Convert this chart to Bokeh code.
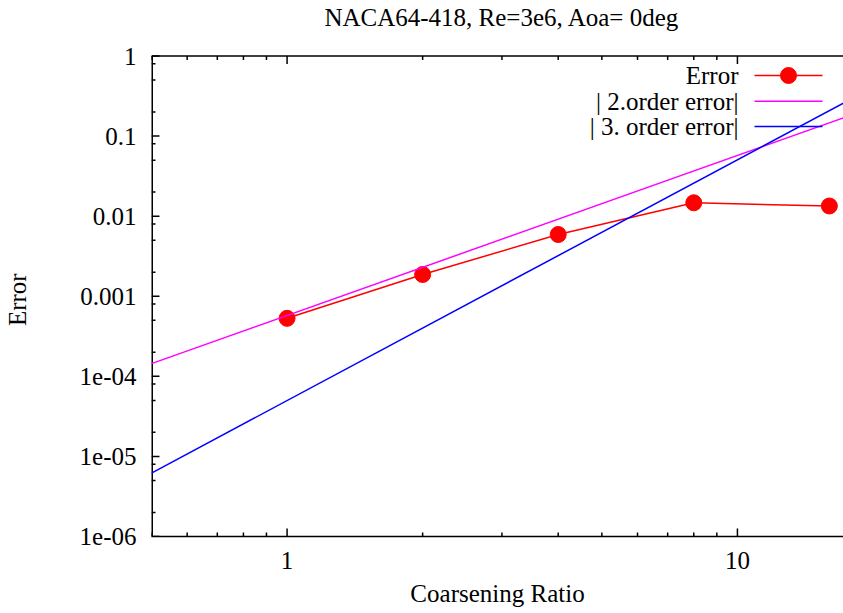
import math
from bokeh.plotting import figure
from bokeh.models import FixedTicker, Range1d, LinearScale, Title
from bokeh.core.properties import value
from bokeh.embed import file_html
from bokeh.resources import INLINE

# ---------------- data ----------------
title_text = "NACA64-418, Re=3e6, Aoa= 0deg"
x_title = "Coarsening Ratio"
y_title = "Error"

ratio = [1, 2, 4, 8, 16]
error = [5.3e-4, 1.87e-3, 5.9e-3, 0.0147, 0.0134]

order2_x = [0.5, 17.2]
order2_y = [1.44e-4, 0.169]
order3_x = [0.5, 17.2]
order3_y = [6.2e-6, 0.258]

x_major = [1, 10]
x_major_labels = ["1", "10"]
x_minor = [0.5, 0.6, 0.7, 0.8, 0.9, 2, 3, 4, 5, 6, 7, 8, 9]

y_major = [1e-6, 1e-5, 1e-4, 1e-3, 1e-2, 1e-1, 1]
y_major_labels = ["1e-06", "1e-05", "1e-04", "0.001", "0.01", "0.1", "1"]
y_minor = [2e-6, 5e-6, 8e-6, 2e-5, 5e-5, 8e-5, 2e-4, 5e-4, 8e-4,
           2e-3, 5e-3, 8e-3, 2e-2, 5e-2, 8e-2, 0.2, 0.5, 0.8]

legend_labels = ["Error", "| 2.order error|", "| 3. order error|"]
colors = ["#ff0000", "#ff00ff", "#0000ff"]

FONT = "Liberation Serif"
FS = "25px"

# plot box (gnuplot border) geometry in pixels
X0, X1 = 0.5, 17.2
Y0, Y1 = 1e-6, 1.0
FW = 692            # box width
BOX_H = 480.5       # box height (1e-6 .. 1)
TOP = 55.5          # space between canvas top and box top
FH = BOX_H + TOP    # drawing frame height (frame reaches the canvas top)
PX_PER_DEC = BOX_H / math.log10(Y1 / Y0)
Y_TOP = Y1 * 10 ** (TOP / PX_PER_DEC)

# ---------------- figure ----------------
p = figure(width=843, height=613, x_axis_type="log", y_axis_type="log",
           x_range=Range1d(X0, X1), y_range=Range1d(Y0, Y_TOP),
           output_backend="svg", toolbar_location=None,
           min_border_left=151, min_border_right=0,
           min_border_top=0, min_border_bottom=77,
           y_axis_label=y_title + "\u00a0" * 10)
p.outline_line_color = None
p.xgrid.visible = False
p.ygrid.visible = False
p.background_fill_color = "white"
p.border_fill_color = "white"
p.title.text = ""
p.title.visible = False

p.add_layout(Title(text=x_title, align="center", offset=4, standoff=13,
                   text_font=FONT, text_font_size=FS, text_font_style="normal",
                   text_color="black"), "below")

bottom = p.below[0]
left = p.left[0]
bottom.ticker = FixedTicker(ticks=x_major, minor_ticks=[])
left.ticker = FixedTicker(ticks=y_major, minor_ticks=[])

for ax in [bottom, left]:
    ax.axis_line_width = 1.5
    ax.axis_line_color = "black"
    ax.major_tick_in = 0
    ax.major_tick_out = 0
    ax.minor_tick_in = 0
    ax.minor_tick_out = 0
    ax.major_label_text_font = FONT
    ax.major_label_text_font_size = FS
    ax.major_label_text_color = "black"
left.axis_line_color = None

bottom.major_label_overrides = dict(zip(x_major, x_major_labels))
bottom.major_label_standoff = 15
left.major_label_overrides = dict(zip(y_major, y_major_labels))
left.major_label_standoff = 15
left.axis_label_text_font = FONT
left.axis_label_text_font_size = FS
left.axis_label_text_font_style = "normal"
left.axis_label_text_color = "black"
left.axis_label_standoff = 46

# pixel-space helper ranges (origin at the canvas top / box left)
p.extra_x_ranges = {"lx": Range1d(0, FW)}
p.extra_y_ranges = {"ly": Range1d(FH, 0)}
p.extra_x_scales = {"lx": LinearScale()}
p.extra_y_scales = {"ly": LinearScale()}

# ---------------- box: left and top border lines ----------------
p.segment(x0=[X0], x1=[X0], y0=[Y0], y1=[Y1], line_color="#000000", line_width=3)
p.segment(x0=[X0], x1=[X1], y0=[Y1], y1=[Y1], line_color="#000000", line_width=1.5)

# ---------------- inward ticks (gnuplot style), lengths in pixels ----------------
dx = math.log10(X1 / X0) / FW      # decades per pixel, x
dy = 1.0 / PX_PER_DEC              # decades per pixel, y
MAJ, MIN = 8, 4
tick_kw = dict(line_color="#000000", line_width=1.5, line_alpha=1.0)
p.segment(x0=[X0] * len(y_major), x1=[X0 * 10 ** (MAJ * dx)] * len(y_major),
          y0=y_major, y1=y_major, **tick_kw)
p.segment(x0=[X0] * len(y_minor), x1=[X0 * 10 ** (MIN * dx)] * len(y_minor),
          y0=y_minor, y1=y_minor, **tick_kw)
p.segment(x0=x_major, x1=x_major, y0=[Y0] * len(x_major),
          y1=[Y0 * 10 ** (MAJ * dy)] * len(x_major), **tick_kw)
p.segment(x0=x_minor, x1=x_minor, y0=[Y0] * len(x_minor),
          y1=[Y0 * 10 ** (MIN * dy)] * len(x_minor), **tick_kw)
p.segment(x0=x_major, x1=x_major, y0=[Y1] * len(x_major),
          y1=[Y1 * 10 ** (-MAJ * dy)] * len(x_major), **tick_kw)
p.segment(x0=x_minor, x1=x_minor, y0=[Y1] * len(x_minor),
          y1=[Y1 * 10 ** (-MIN * dy)] * len(x_minor), **tick_kw)

# ---------------- series ----------------
p.line(ratio, error, line_color=colors[0], line_width=1.5)
p.scatter(ratio, error, size=16, fill_color=colors[0], line_color=colors[0])
p.line(order2_x, order2_y, line_color=colors[1], line_width=1.5)
p.line(order3_x, order3_y, line_color=colors[2], line_width=1.5)

# ---------------- title ----------------
p.text(x=[350.5], y=[17], text=[title_text], x_range_name="lx", y_range_name="ly",
       text_align="center", text_baseline="middle", text_font=value(FONT),
       text_font_size=FS, text_color="black")

# ---------------- legend (gnuplot style: text left, sample right) ----------------
rows = [75, 100.7, 126]
p.text(x=[587] * 3, y=rows, text=legend_labels, x_range_name="lx", y_range_name="ly",
       text_align="right", text_baseline="middle", text_font=value(FONT),
       text_font_size=FS, text_color="black")
p.segment(x0=[603] * 3, x1=[671] * 3, y0=rows, y1=rows, line_color=colors,
          line_width=1.5, x_range_name="lx", y_range_name="ly")
p.scatter(x=[637], y=[rows[0]], size=16, fill_color=colors[0], line_color=colors[0],
          x_range_name="lx", y_range_name="ly")

open("out.html", "w").write(file_html(p, INLINE))
